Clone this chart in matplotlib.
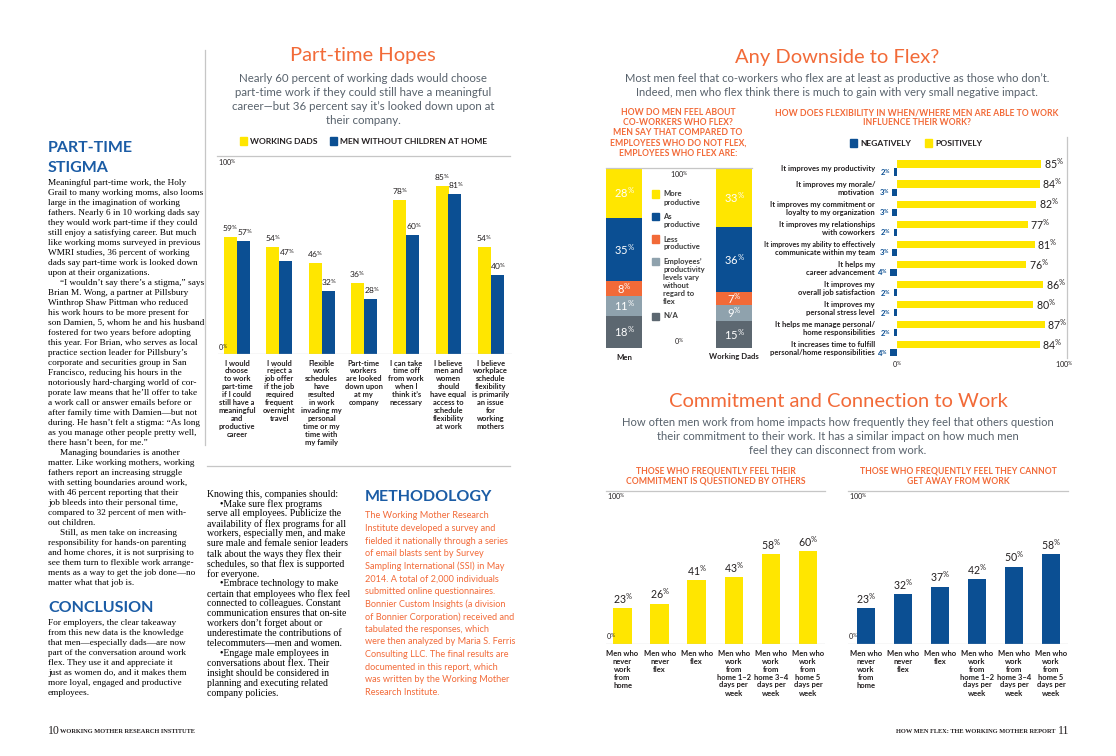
import matplotlib
matplotlib.use("Agg")
import matplotlib.pyplot as plt
from matplotlib.lines import Line2D
from matplotlib.patches import Rectangle
from matplotlib.transforms import blended_transform_factory

plt.rcParams["font.family"] = ["Lato", "DejaVu Sans"]
plt.rcParams["mathtext.default"] = "regular"

W, H = 1116, 756
YELLOW = "#ffe600"
BLUE = "#0b4f93"
ORANGE = "#f26a38"
LIGHT = "#8fa2ad"
SLATE = "#5c6770"
INK = "#231f20"
GREY_TXT = "#58626c"
RULE = "#c6c6c6"
HEAD = "#1b5ca5"
SERIF = "Liberation Serif"

# ---------------- data ----------------
hopes_cats = [
    "I would\nchoose\nto work\npart-time\nif I could\nstill have a\nmeaningful\nand\nproductive\ncareer",
    "I would\nreject a\njob offer\nif the job\nrequired\nfrequent\novernight\ntravel",
    "Flexible\nwork\nschedules\nhave\nresulted\nin work\ninvading my\npersonal\ntime or my\ntime with\nmy family",
    "Part-time\nworkers\nare looked\ndown upon\nat my\ncompany",
    "I can take\ntime off\nfrom work\nwhen I\nthink it’s\nnecessary",
    "I believe\nmen and\nwomen\nshould\nhave equal\naccess to\nschedule\nflexibility\nat work",
    "I believe\nworkplace\nschedule\nflexibility\nis primarily\nan issue\nfor\nworking\nmothers",
]
hopes_dads = [59, 54, 46, 36, 78, 85, 54]
hopes_men = [57, 47, 32, 28, 60, 81, 40]

peer_groups = ["Men", "Working Dads"]
peer_levels = ["More\nproductive", "As\nproductive", "Less\nproductive",
               "Employees’\nproductivity\nlevels vary\nwithout\nregard to\nflex", "N/A"]
peer_colors = [YELLOW, BLUE, ORANGE, LIGHT, SLATE]
peer_men = [28, 35, 8, 11, 18]
peer_dads = [33, 36, 7, 9, 15]

impact_labels = [
    "It improves my productivity",
    "It improves my morale/\nmotivation",
    "It improves my commitment or\nloyalty to my organization",
    "It improves my relationships\nwith coworkers",
    "It improves my ability to effectively\ncommunicate within my team",
    "It helps my\ncareer advancement",
    "It improves my\noverall job satisfaction",
    "It improves my\npersonal stress level",
    "It helps me manage personal/\nhome responsibilities",
    "It increases time to fulfill\npersonal/home responsibilities",
]
impact_pos = [85, 84, 82, 77, 81, 76, 86, 80, 87, 84]
impact_neg = [2, 3, 3, 2, 3, 4, 2, 2, 2, 4]

work_cats = [
    "Men who\nnever\nwork\nfrom\nhome",
    "Men who\nnever\nflex",
    "Men who\nflex",
    "Men who\nwork\nfrom\nhome 1–2\ndays per\nweek",
    "Men who\nwork\nfrom\nhome 3–4\ndays per\nweek",
    "Men who\nwork\nfrom\nhome 5\ndays per\nweek",
]
questioned = [23, 26, 41, 43, 58, 60]
cant_get_away = [23, 32, 37, 42, 50, 58]

stigma_text = [
    "Meaningful part-time work, the Holy",
    "Grail to many working moms, also looms",
    "large in the imagination of working",
    "fathers. Nearly 6 in 10 working dads say",
    "they would work part-time if they could",
    "still enjoy a satisfying career. But much",
    "like working moms surveyed in previous",
    "WMRI studies, 36 percent of working",
    "dads say part-time work is looked down",
    "upon at their organizations.",
    "\t“I wouldn’t say there’s a stigma,” says",
    "Brian M. Wong, a partner at Pillsbury",
    "Winthrop Shaw Pittman who reduced",
    "his work hours to be more present for",
    "son Damien, 5, whom he and his husband",
    "fostered for two years before adopting",
    "this year. For Brian, who serves as local",
    "practice section leader for Pillsbury’s",
    "corporate and securities group in San",
    "Francisco, reducing his hours in the",
    "notoriously hard-charging world of cor-",
    "porate law means that he’ll offer to take",
    "a work call or answer emails before or",
    "after family time with Damien—but not",
    "during. He hasn’t felt a stigma: “As long",
    "as you manage other people pretty well,",
    "there hasn’t been, for me.”",
    "\tManaging boundaries is another",
    "matter. Like working mothers, working",
    "fathers report an increasing struggle",
    "with setting boundaries around work,",
    "with 46 percent reporting that their",
    "job bleeds into their personal time,",
    "compared to 32 percent of men with-",
    "out children.",
    "\tStill, as men take on increasing",
    "responsibility for hands-on parenting",
    "and home chores, it is not surprising to",
    "see them turn to flexible work arrange-",
    "ments as a way to get the job done—no",
    "matter what that job is.",
]
conclusion_text = [
    "For employers, the clear takeaway",
    "from this new data is the knowledge",
    "that men—especially dads—are now",
    "part of the conversation around work",
    "flex. They use it and appreciate it",
    "just as women do, and it makes them",
    "more loyal, engaged and productive",
    "employees.",
]
advice_text = [
    "Knowing this, companies should:",
    "\t•Make sure flex programs",
    "serve all employees. Publicize the",
    "availability of flex programs for all",
    "workers, especially men, and make",
    "sure male and female senior leaders",
    "talk about the ways they flex their",
    "schedules, so that flex is supported",
    "for everyone.",
    "\t•Embrace technology to make",
    "certain that employees who flex feel",
    "connected to colleagues. Constant",
    "communication ensures that on-site",
    "workers don’t forget about or",
    "underestimate the contributions of",
    "telecommuters—men and women.",
    "\t•Engage male employees in",
    "conversations about flex. Their",
    "insight should be considered in",
    "planning and executing related",
    "company policies.",
]
method_text = [
    "The Working Mother Research",
    "Institute developed a survey and",
    "fielded it nationally through a series",
    "of email blasts sent by Survey",
    "Sampling International (SSI) in May",
    "2014. A total of 2,000 individuals",
    "submitted online questionnaires.",
    "Bonnier Custom Insights (a division",
    "of Bonnier Corporation) received and",
    "tabulated the responses, which",
    "were then analyzed by Maria S. Ferris",
    "Consulting LLC. The final results are",
    "documented in this report, which",
    "was written by the Working Mother",
    "Research Institute.",
]

fig = plt.figure(figsize=(W / 100, H / 100), dpi=100)
fig.patch.set_facecolor("white")


def fx(x):
    return x / W


def fy(y):
    return 1 - y / H


def put(x, y, s, **kw):
    kw.setdefault("va", "center")
    return fig.text(fx(x), fy(y), s, **kw)


def block(x, y, dy, lines, indent=12, **kw):
    for i, s in enumerate(lines):
        xx = x + indent if s.startswith("\t") else x
        put(xx, y + i * dy, s.lstrip("\t"), **kw)


def hline(x0, x1, y, color=RULE, lw=0.9):
    fig.add_artist(Line2D([fx(x0), fx(x1)], [fy(y), fy(y)], color=color, lw=lw))


def vline(x, y0, y1, color=RULE, lw=0.9):
    fig.add_artist(Line2D([fx(x), fx(x)], [fy(y0), fy(y1)], color=color, lw=lw))


def swatch(x, y, color, size=7):
    fig.add_artist(Rectangle((fx(x), fy(y + size / 2)), size / W, size / H,
                             color=color, transform=fig.transFigure))


def axes_px(x0, y0, x1, y1):
    ax = fig.add_axes([fx(x0), fy(y1), (x1 - x0) / W, (y1 - y0) / H])
    ax.axis("off")
    return ax


def pct(v):
    return f"{v}$^{{\\%}}$"


def under(ax, i, y0, text, dy=8, **kw):
    tr = blended_transform_factory(ax.transData, fig.transFigure)
    for j, s in enumerate(text.split("\n")):
        ax.text(i, fy(y0 + j * dy), s, transform=tr, ha="center", va="center", **kw)


# ---------------- left page text ----------------
put(48, 147.5, "PART-TIME", fontsize=11.5, fontweight="bold", color=HEAD)
put(48, 167.5, "STIGMA", fontsize=11.5, fontweight="bold", color=HEAD)
block(48, 183, 10, stigma_text, family=SERIF, fontsize=6.7, color="black")
put(48, 607.5, "CONCLUSION", fontsize=11.5, fontweight="bold", color=HEAD)
block(48, 623, 10, conclusion_text, family=SERIF, fontsize=6.7, color="black")

block(207, 494, 9.97, advice_text, indent=13, family=SERIF, fontsize=7.0, color="black")
put(365, 497.5, "METHODOLOGY", fontsize=11.5, fontweight="bold", color=HEAD)
block(365, 516, 12.6, method_text, fontsize=6.6, color=ORANGE)

vline(205, 50, 445)
hline(207, 510, 466)

# ---------------- Part-time Hopes ----------------
put(363, 56, "Part-time Hopes", fontsize=14.5, color=ORANGE, ha="center")
block(363, 79, 14, ["Nearly 60 percent of working dads would choose",
                    "part-time work if they could still have a meaningful",
                    "career—but 36 percent say it’s looked down upon at",
                    "their company."],
      fontsize=8.3, color=GREY_TXT, ha="center")
swatch(240, 141, YELLOW)
put(250, 141, "WORKING DADS", fontsize=6.1, fontweight="bold", color=INK)
swatch(330, 141, BLUE)
put(340, 141, "MEN WITHOUT CHILDREN AT HOME", fontsize=6.1, fontweight="bold", color=INK)

hline(217, 510, 156)
ax1 = axes_px(218, 156, 512, 354)
step1 = 42.3
ax1.set_xlim((218 - 237) / step1, (512 - 237) / step1)
ax1.set_ylim(0, 100)
bw = 13 / step1
xs = range(len(hopes_cats))
ax1.bar([i - bw / 2 for i in xs], hopes_dads, width=bw, color=YELLOW)
ax1.bar([i + bw / 2 for i in xs], hopes_men, width=bw, color=BLUE)
for i in xs:
    ax1.text(i - bw / 2, hopes_dads[i] + 1.5, pct(hopes_dads[i]), ha="center",
             va="bottom", fontsize=6, color=INK)
    ax1.text(i + bw / 2 + 0.03, hopes_men[i] + 1.5, pct(hopes_men[i]), ha="center",
             va="bottom", fontsize=6, color=INK)
    under(ax1, i, 363, hopes_cats[i], fontsize=5.4, fontweight="bold", color=INK)
ax1.axhline(0, color=RULE, lw=0.9)
put(218, 162, pct(100), fontsize=5.2, color=INK)
put(218, 348, pct(0), fontsize=5.2, color=INK)

# ---------------- Any Downside to Flex? ----------------
put(837, 57, "Any Downside to Flex?", fontsize=14.5, color=ORANGE, ha="center")
block(837, 79, 14, ["Most men feel that co-workers who flex are at least as productive as those who don’t.",
                    "Indeed, men who flex think there is much to gain with very small negative impact."],
      fontsize=8.1, color=GREY_TXT, ha="center")
block(678, 112.5, 10.2, ["HOW DO MEN FEEL ABOUT", "CO-WORKERS WHO FLEX?",
                         "MEN SAY THAT COMPARED TO", "EMPLOYEES WHO DO NOT FLEX,",
                         "EMPLOYEES WHO FLEX ARE:"],
      fontsize=6.2, fontweight="bold", color=ORANGE, ha="center")
block(917, 112.5, 10.2, ["HOW DOES FLEXIBILITY IN WHEN/WHERE MEN ARE ABLE TO WORK",
                         "INFLUENCE THEIR WORK?"],
      fontsize=6.2, fontweight="bold", color=ORANGE, ha="center")

# stacked bars
hline(606, 752, 168)
ax2 = axes_px(606, 168, 752, 348)
ax2.set_xlim(-18 / 110, 1 + 18 / 110)
ax2.set_ylim(0, 100)
for gi, vals in enumerate([peer_men, peer_dads]):
    for j, v in enumerate(vals):
        bottom = sum(vals[j + 1:])
        ax2.bar(gi, v, bottom=bottom, width=36 / 110, color=peer_colors[j])
        ax2.text(gi, bottom + v / 2, pct(v), ha="center", va="center",
                 fontsize=8, color="white")
    under(ax2, gi, 357, peer_groups[gi], fontsize=5.6, fontweight="bold", color=INK)
put(679, 174, pct(100), fontsize=5.2, color=INK, ha="center")
put(679, 342, pct(0), fontsize=5.2, color=INK, ha="center")
ly = 194
for name, col in zip(peer_levels, peer_colors):
    swatch(652, ly, col)
    n = name.count("\n") + 1
    block(663, ly, 8, name.split("\n"), fontsize=5.5, fontweight="bold", color="#3a3a3a")
    ly += n * 8 + 6.5

# horizontal bars
swatch(850, 143, BLUE)
put(860, 143, "NEGATIVELY", fontsize=6.1, fontweight="bold", color=INK)
swatch(925, 143, YELLOW)
put(935, 143, "POSITIVELY", fontsize=6.1, fontweight="bold", color=INK)
vline(1067, 137, 358)
ax3 = axes_px(860, 154, 1067, 356)
unit = 170 / 100
ax3.set_xlim(-(897 - 860) / unit, 100)
rs = 20.1
ax3.set_ylim((356 - 168) / rs, (154 - 168) / rs)
rows = range(len(impact_labels))
bh = 7.2 / rs
ax3.barh([k - 0.2 for k in rows], impact_pos, height=bh, color=YELLOW)
ax3.barh([k + 0.2 for k in rows], [-v for v in impact_neg], height=bh, color=BLUE)
tr3 = blended_transform_factory(fig.transFigure, ax3.transData)
fit_labels = []
for k in rows:
    ax3.text(impact_pos[k] + 1.5, k - 0.2, pct(impact_pos[k]), ha="left", va="center",
             fontsize=7.6, color=INK)
    ax3.text(-impact_neg[k] - 1.5, k + 0.22, pct(impact_neg[k]), ha="right", va="center",
             fontsize=5.6, color=BLUE, fontweight="bold")
    parts = impact_labels[k].split("\n")
    ys = [k] if len(parts) == 1 else [k - 0.2, k + 0.2]
    for s, yy in zip(parts, ys):
        fit_labels.append(ax3.text(fx(875), yy, s, transform=tr3, ha="right", va="center",
                                   fontsize=5.5, fontweight="bold", color=INK))
put(897, 365, pct(0), fontsize=5.2, color=INK, ha="center")
put(1064, 365, pct(100), fontsize=5.2, color=INK, ha="center")

# ---------------- Commitment and Connection ----------------
put(838, 401, "Commitment and Connection to Work", fontsize=14.5, color=ORANGE, ha="center")
block(838, 423, 14, ["How often men work from home impacts how frequently they feel that others question",
                     "their commitment to their work. It has a similar impact on how much men",
                     "feel they can disconnect from work."],
      fontsize=8.1, color=GREY_TXT, ha="center")
block(716, 471, 10, ["THOSE WHO FREQUENTLY FEEL THEIR", "COMMITMENT IS QUESTIONED BY OTHERS"],
      fontsize=6.2, fontweight="bold", color=ORANGE, ha="center")
block(958, 471, 10, ["THOSE WHO FREQUENTLY FEEL THEY CANNOT", "GET AWAY FROM WORK"],
      fontsize=6.2, fontweight="bold", color=ORANGE, ha="center")


def column_panel(x0, x1, first, step, vals, color):
    hline(x0, x1, 491)
    ax = axes_px(x0, 489, x1, 644)
    ax.set_xlim((x0 - first) / step, (x1 - first) / step)
    ax.set_ylim(0, 100)
    idx = range(len(vals))
    ax.bar(idx, vals, width=18.5 / step, color=color)
    for i in idx:
        ax.text(i, vals[i] + 1.5, pct(vals[i]), ha="center", va="bottom", fontsize=7.6, color=INK)
        under(ax, i, 653, work_cats[i], fontsize=5.5, fontweight="bold", color=INK)
    ax.axhline(0, color=RULE, lw=0.9)
    put(x0 + 1, 496, pct(100), fontsize=5.2, color=INK)
    put(x0, 637, pct(0), fontsize=5.2, color=INK)


column_panel(606, 825, 622.5, 37.1, questioned, YELLOW)
column_panel(848, 1068, 866, 37.0, cant_get_away, BLUE)

# ---------------- footer ----------------
put(48, 731, "10", family=SERIF, fontsize=8.5, color=INK)
put(60, 731.5, "WORKING MOTHER RESEARCH INSTITUTE", family=SERIF, fontsize=4.6,
    fontweight="bold", color=INK)
put(1055, 731.5, "HOW MEN FLEX: THE WORKING MOTHER REPORT", family=SERIF, fontsize=4.6,
    fontweight="bold", color=INK, ha="right")
put(1058, 731, "11", family=SERIF, fontsize=8.5, color=INK)

# squeeze over-long chart labels like the original layout does
fig.canvas.draw()
rend = fig.canvas.get_renderer()
for t in fit_labels:
    w = t.get_window_extent(rend).width
    if w > 110:
        t.set_fontsize(t.get_fontsize() * 110 / w)

fig.savefig("out.png", dpi=100, facecolor="white")
